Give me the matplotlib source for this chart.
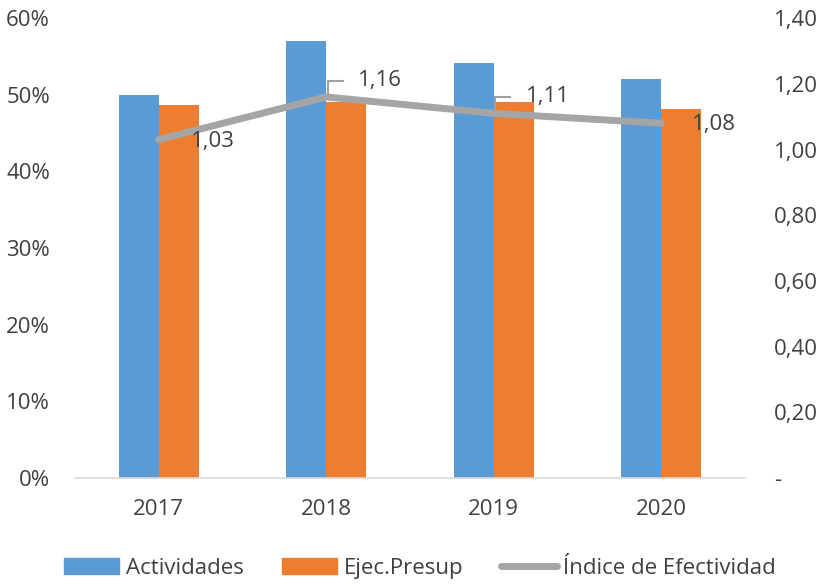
import numpy as np
import matplotlib
matplotlib.use('Agg')
import matplotlib.pyplot as plt
from matplotlib.lines import Line2D
from matplotlib.patches import Patch

# Datos
years = ['2017', '2018', '2019', '2020']
actividades = [50.0, 57.0, 54.2, 52.0]
ejec_presup = [48.7, 49.0, 49.1, 48.2]
indice = [1.03, 1.16, 1.11, 1.08]
indice_labels = ['1,03', '1,16', '1,11', '1,08']

blue = '#5B9BD5'
orange = '#ED7D31'
gray = '#A5A5A5'
txt = '#404040'
fs = 16

plt.rcParams['font.family'] = ['Open Sans', 'DejaVu Sans']

fig = plt.figure(figsize=(8.25, 5.84), dpi=100)
ax = fig.add_axes([0.0909, 0.1815, 0.8121, 0.7875])

x = np.arange(len(years))
w = 0.238
ax.bar(x - w / 2, actividades, w, color=blue, label='Actividades')
ax.bar(x + w / 2, ejec_presup, w, color=orange, label='Ejec.Presup')

ax.set_xlim(-0.5, len(years) - 0.5)
ax.set_ylim(0, 60)
ax.set_yticks(range(0, 61, 10))
ax.set_yticklabels(['{}%'.format(v) for v in range(0, 61, 10)])
ax.set_xticks(x)
ax.set_xticklabels(years)

for s in ['top', 'left', 'right']:
    ax.spines[s].set_visible(False)
ax.spines['bottom'].set_color('#D9D9D9')
ax.spines['bottom'].set_linewidth(1.2)
ax.tick_params(axis='both', length=0, labelsize=fs, colors=txt)
ax.tick_params(axis='x', pad=15)
ax.tick_params(axis='y', pad=18)

ax2 = ax.twinx()
ax2.plot(x, indice, color=gray, lw=5, solid_capstyle='round')
ax2.set_ylim(0, 1.4)
rt = np.arange(0, 1.41, 0.2)
ax2.set_yticks(rt)
ax2.set_yticklabels(['-'] + ['{:.2f}'.format(v).replace('.', ',') for v in rt[1:]])
for s in ['top', 'left', 'right', 'bottom']:
    ax2.spines[s].set_visible(False)
ax2.tick_params(axis='y', length=0, labelsize=fs, colors=txt, pad=21)

# Etiquetas de datos
ax2.annotate(indice_labels[0], (x[0], indice[0]), xytext=(39, -1), textcoords='offset points',
             fontsize=fs, color=txt, ha='center', va='center')
for i in [1, 2]:
    ax2.annotate(indice_labels[i], (x[i], indice[i]), xytext=(39, 12), textcoords='offset points',
                 fontsize=fs, color=txt, ha='center', va='center')
    ax2.plot([x[i] + 0.01, x[i] + 0.01, x[i] + 0.1], [indice[i] + 0.01, indice[i] + 0.05, indice[i] + 0.05],
             color='#A0A0A0', lw=1.5)
ax2.annotate(indice_labels[3], (x[3], indice[3]), xytext=(38, -1), textcoords='offset points',
             fontsize=fs, color=txt, ha='center', va='center')

handles = [Patch(color=blue, label='Actividades'),
           Patch(color=orange, label='Ejec.Presup'),
           Line2D([0], [0], color=gray, lw=5, solid_capstyle='round', label='Índice de Efectividad')]
fig.legend(handles=handles, loc='center', bbox_to_anchor=(0.509, 0.027), ncol=3, frameon=False,
           fontsize=fs, labelcolor=txt, handlelength=2.5, handleheight=0.7, handletextpad=0.3,
           columnspacing=1.7)

fig.savefig('out.png', dpi=100)
